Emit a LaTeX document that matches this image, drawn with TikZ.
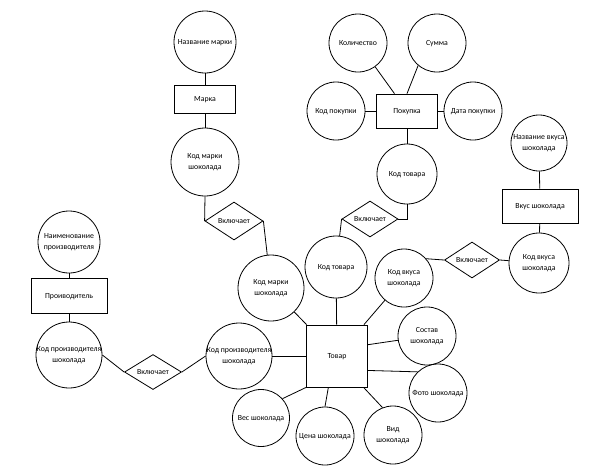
\documentclass[tikz,border=0pt]{standalone}
\usepackage{fontspec}
\setmainfont{Carlito}
\usetikzlibrary{shapes.geometric,calc}
\newcommand\tx[1]{\makebox[0pt]{\begin{tabular}{@{}c@{}}#1\end{tabular}}}
\begin{document}
\begin{tikzpicture}[x=1pt,y=-1pt,
  every node/.style={font=\fontsize{7.8}{11}\selectfont},
  attr/.style={circle, draw, line width=0.8pt, inner sep=0pt, minimum size=#1},
  ent/.style={rectangle, draw, line width=0.8pt, inner sep=0pt},
  rel/.style={diamond, draw, line width=0.8pt, inner sep=0pt},
  link/.style={draw, line width=0.8pt}]
\useasboundingbox (0,0) rectangle (602,469);
% top-left: Марка
\node[attr=62pt] (nm) at (205,42) {\tx{Название марки}};
\node[ent, minimum width=61pt, minimum height=28pt] (marka) at (205,99) {\tx{Марка}};
\node[attr=68pt] (kmk1) at (205,162) {\tx{Код марки\\шоколада}};
\node[rel, minimum width=58pt, minimum height=38pt] (d1) at (234,221) {\tx{Включает}};
\node[attr=66pt] (kmk2) at (271,288) {\tx{Код марки\\шоколада}};
% Покупка
\node[attr=58pt] (kol) at (358,43) {\tx{Количество}};
\node[attr=58pt] (sum) at (437,43) {\tx{Сумма}};
\node[ent, minimum width=61pt, minimum height=34pt] (pok) at (407,111) {\tx{Покупка}};
\node[attr=58pt] (kp) at (336,111) {\tx{Код покупки}};
\node[attr=58pt] (dp) at (473,111) {\tx{Дата покупки}};
\node[attr=60pt] (kt1) at (407,174) {\tx{Код товара}};
\node[rel, minimum width=56pt, minimum height=36pt] (d2) at (370,219) {\tx{Включает}};
\node[attr=62pt] (kt2) at (336,267) {\tx{Код товара}};
% Вкус
\node[attr=56pt] (nv) at (539,143) {\tx{Название вкуса\\шоколада}};
\node[ent, minimum width=76pt, minimum height=34pt] (vkus) at (540,206) {\tx{Вкус шоколада}};
\node[attr=60pt] (kv1) at (539,263) {\tx{Код вкуса\\шоколада}};
\node[rel, minimum width=55pt, minimum height=36pt] (d3) at (472,260) {\tx{Включает}};
\node[attr=58pt] (kv2) at (404,278) {\tx{Код вкуса\\шоколада}};
% Товар
\node[ent, minimum width=61pt, minimum height=62pt] (tovar) at (337,356) {\tx{Товар}};
\node[attr=58pt] (sost) at (427,336) {\tx{Состав\\шоколада}};
\node[attr=58pt] (foto) at (438,393) {\tx{Фото шоколада}};
\node[attr=58pt] (vid) at (393,435) {\tx{Вид\\шоколада}};
\node[attr=58pt] (cena) at (325,436) {\tx{Цена шоколада}};
\node[attr=57pt] (ves) at (261,418) {\tx{Вес шоколада}};
\node[attr=66pt] (kps2) at (239,356) {\tx{Код производителя\\шоколада}};
% Производитель
\node[attr=62pt] (nprod) at (69,242) {\tx{Наименование\\производителя}};
\node[ent, minimum width=76pt, minimum height=35pt] (prod) at (69,296) {\tx{Проиводитель}};
\node[attr=66pt] (kps1) at (69,355) {\tx{Код производителя\\шоколада}};
\node[rel, minimum width=57pt, minimum height=35pt] (d4) at (153,372) {\tx{Включает}};
% connectors
\coordinate (tsost) at ($(tovar.north east)!0.32!(tovar.south east)$);
\coordinate (tfoto) at ($(tovar.north east)!0.73!(tovar.south east)$);
\coordinate (tvid) at ($(tovar.south west)!0.93!(tovar.south east)$);
\coordinate (tcena) at ($(tovar.south west)!0.36!(tovar.south east)$);
\path[link] (nm) -- (marka);
\path[link] (marka) -- (kmk1);
\path[link] (kmk1.south) -- (d1.west);
\path[link] (d1.east) -- (kmk2);
\path[link] (kmk2) -- (tovar);
\path[link] (kol) -- (pok);
\path[link] (sum.230) -- (pok.north);
\path[link] (kp) -- (pok);
\path[link] (dp) -- (pok);
\path[link] (pok) -- (kt1);
\path[link] (d2.east) -| (kt1.south);
\path[link] (d2.west) -- (kt2);
\path[link] (kt2) -- (tovar);
\path[link] (nv) -- (vkus);
\path[link] (vkus) -- (kv1);
\path[link] (d3.east) -- (kv1);
\path[link] (kv2.41) -- (d3.west);
\path[link] (kv2) -- (tovar);
\path[link] (tsost) -- (sost);
\path[link] (tfoto) -- (foto.134);
\path[link] (tvid) -- (vid.111);
\path[link] (tcena) -- (cena.north);
\path[link] (tovar.south west) -- (ves.42);
\path[link] (kps2) -- (tovar);
\path[link] (nprod) -- (prod);
\path[link] (prod) -- (kps1);
\path[link] (kps1.east) -- (d4.west);
\path[link] (d4.east) -- (kps2.west);
\end{tikzpicture}
\end{document}
